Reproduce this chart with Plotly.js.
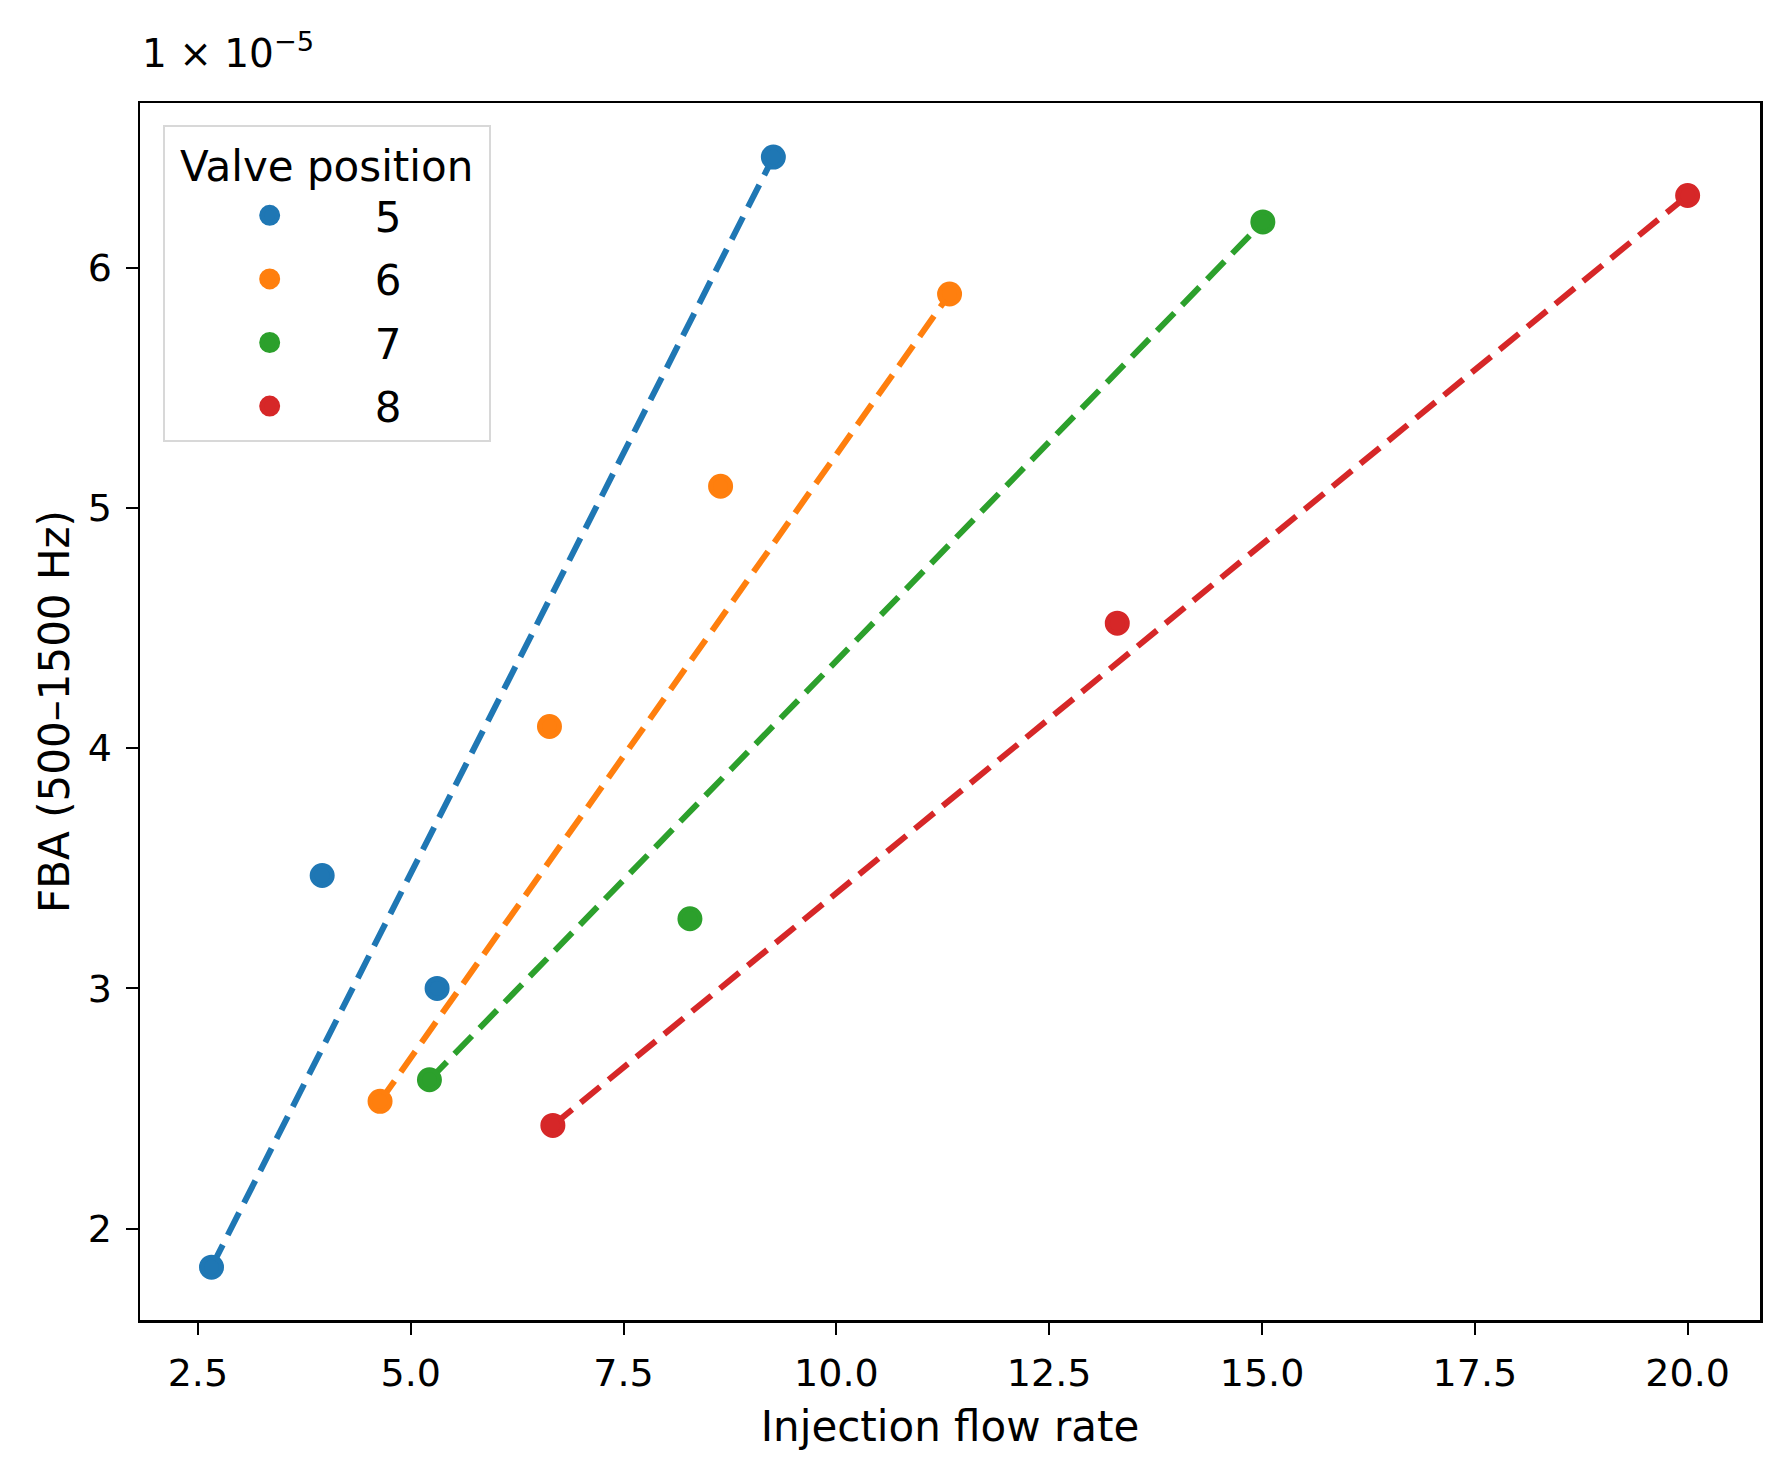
<!DOCTYPE html>
<html>
<head>
<meta charset="utf-8">
<script src="https://cdn.plot.ly/plotly-3.0.1.min.js"></script>
<style>
  html, body { margin: 0; padding: 0; background: #fff; }
  #graph { width: 1782px; height: 1473px; }
</style>
</head>
<body>
<div id="graph"></div>
<script>
// values, FBA in units of 1e-5
var valves = ['5', '6', '7', '8']
var colors = ['#1f77b4', '#ff7f0e', '#2ca02c', '#d62728']

var flow5 = [2.66, 3.96, 5.31, 9.26]
var fba5 = [1.84, 3.47, 3.00, 6.46]
var flow6 = [4.64, 6.63, 8.64, 11.33]
var fba6 = [2.53, 4.09, 5.09, 5.89]
var flow7 = [5.22, 8.28, 15.01]
var fba7 = [2.62, 3.29, 6.19]
var flow8 = [6.67, 13.30, 20.0]
var fba8 = [2.43, 4.52, 6.30]

// dashed trend lines, ends
var fitFlow5 = [2.66, 9.26]
var fitFba5 = [1.84, 6.46]
var fitFlow6 = [4.64, 11.33]
var fitFba6 = [2.53, 5.89]
var fitFlow7 = [5.22, 15.01]
var fitFba7 = [2.62, 6.19]
var fitFlow8 = [6.67, 20.0]
var fitFba8 = [2.43, 6.30]

var xTicks = [2.5, 5.0, 7.5, 10.0, 12.5, 15.0, 17.5, 20.0]
var yTicks = [2, 3, 4, 5, 6]

var flows = [flow5, flow6, flow7, flow8]
var fbas = [fba5, fba6, fba7, fba8]
var fitFlows = [fitFlow5, fitFlow6, fitFlow7, fitFlow8]
var fitFbas = [fitFba5, fitFba6, fitFba7, fitFba8]

var font = 'DejaVu Sans, Liberation Sans, sans-serif'
var data = []

for (var i = 0; i < valves.length; i++) {
    data.push({
        x: fitFlows[i],
        y: fitFbas[i],
        mode: 'lines',
        type: 'scatter',
        line: {color: colors[i], width: 6, dash: '25px,11px'},
        showlegend: false,
        hoverinfo: 'skip'
    })
}
for (var i = 0; i < valves.length; i++) {
    data.push({
        x: flows[i],
        y: fbas[i],
        name: valves[i],
        legendgroup: valves[i],
        mode: 'markers',
        type: 'scatter',
        // outline in the same colour so the legend dot is not tiny
        marker: {color: colors[i], size: 20, line: {color: colors[i], width: 5}}
    })
}

var axisStyle = {
    showgrid: false,
    zeroline: false,
    showline: true,
    mirror: true,
    linecolor: '#000',
    linewidth: 2.5,
    ticks: 'outside',
    ticklen: 12,
    tickwidth: 2,
    tickcolor: '#000',
    ticklabelstandoff: 6,
    tickfont: {family: font, size: 38, color: '#000'}
}

var layout = {
    width: 1782,
    height: 1473,
    margin: {l: 140, r: 22, t: 103, b: 153},
    paper_bgcolor: '#fff',
    plot_bgcolor: '#fff',
    font: {family: font, color: '#000'},
    xaxis: Object.assign({}, axisStyle, {
        range: [1.82, 20.85],
        tickvals: xTicks,
        tickformat: '.1f',
        title: {text: 'Injection flow rate', font: {family: font, size: 42, color: '#000'}, standoff: 18}
    }),
    yaxis: Object.assign({}, axisStyle, {
        range: [1.62, 6.685],
        tickvals: yTicks,
        tickformat: 'd',
        title: {text: 'FBA (500–1500 Hz)', font: {family: font, size: 42, color: '#000'}, standoff: 5}
    }),
    legend: {
        x: 0.014,
        y: 0.982,
        xanchor: 'left',
        yanchor: 'top',
        bgcolor: '#fff',
        bordercolor: '#d8d8d8',
        borderwidth: 2,
        itemwidth: 200,
        tracegroupgap: 6,
        font: {family: font, size: 42, color: '#000'},
        title: {text: '\u00a0Valve position\u00a0', font: {family: font, size: 42, color: '#000'}}
    },
    annotations: [{
        text: '1 × 10<sup>−5</sup>',
        xref: 'paper',
        yref: 'paper',
        x: 0.0,
        y: 1.043,
        xanchor: 'left',
        yanchor: 'middle',
        showarrow: false,
        font: {family: font, size: 39, color: '#000'}
    }]
}

Plotly.newPlot('graph', data, layout, {staticPlot: true})
</script>
</body>
</html>
